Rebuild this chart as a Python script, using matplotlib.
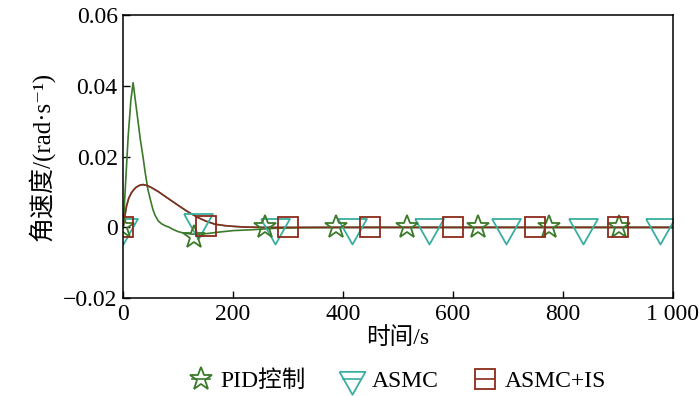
import matplotlib
matplotlib.use('Agg')
import matplotlib.pyplot as plt
from matplotlib.ticker import FuncFormatter

plt.rcParams['font.family'] = ['Liberation Serif', 'Noto Sans CJK SC', 'DejaVu Serif']
plt.rcParams['axes.unicode_minus'] = True

# PID control response
pid_t = [0, 3, 9, 14, 18, 22, 27, 31, 36, 40, 45, 50, 54, 58, 64, 70, 76, 84, 91, 100, 110,
         125, 139, 155, 170, 200, 230, 272, 320, 400, 1000]
pid_v = [0, 0.0088, 0.0256, 0.036, 0.0409, 0.036, 0.030, 0.025, 0.020, 0.0155, 0.0107,
         0.0075, 0.0051, 0.0034, 0.0018, 0.001, 0.0005, 0.0, -0.0006, -0.0012, -0.0016,
         -0.0019, -0.0019, -0.0017, -0.0014, -0.0009, -0.0007, -0.0003, -0.0001, 0, 0]

# ASMC+IS response (ASMC lies underneath it)
asis_t = [0, 3, 6, 10, 15, 20, 24, 30, 36, 44, 52, 64, 76, 90, 106, 120, 136, 150, 167, 185,
          200, 220, 260, 1000]
asis_v = [0, 0.0033, 0.006, 0.0082, 0.0098, 0.0108, 0.0114, 0.0119, 0.0121, 0.0118, 0.0112,
          0.0101, 0.0088, 0.0073, 0.0056, 0.0042, 0.0028, 0.0018, 0.0009, 0.0005, 0.0003,
          0.0001, 0, 0]
asmc_t = asis_t
asmc_v = asis_v

# marker positions
pid_mt = [0, 129, 258, 387, 516, 645, 774, 903]
pid_mv = [0, -0.0028, 0, 0, 0, 0, 0, 0]
asmc_mt = [0, 137, 277, 417, 556, 697, 837, 977]
asmc_mv = [0, 0.0016, 0, 0, 0, 0, 0, 0]
asis_mt = [0, 150, 300, 450, 600, 750, 900]
asis_mv = [0, 0.0003, 0, 0, 0, 0, 0]

c_pid = '#3b7a2a'
c_asmc = '#3aaea0'
c_asis = '#8b2a1a'

# triangle with its centroid on the data point
tri = [(-1, 0.59), (1, 0.59), (0, -1.18), (-1, 0.59)]

fig = plt.figure(figsize=(7, 3.96), dpi=100)
ax = fig.add_axes([0.176, 0.247, 0.785, 0.715])

ax.plot(asmc_t, asmc_v, color=c_asmc, lw=1.2)
ax.plot(pid_t, pid_v, color=c_pid, lw=1.2)
ax.plot(asis_t, asis_v, color=c_asis, lw=1.2)

ax.plot(asmc_mt, asmc_mv, ls='none', marker=tri, ms=24.5, mfc='none', mec=c_asmc, mew=1.3)
ax.plot(pid_mt, pid_mv, ls='none', marker='*', ms=17, mfc='none', mec=c_pid, mew=1.3)
ax.plot(asis_mt, asis_mv, ls='none', marker='s', ms=15, mfc='none', mec=c_asis, mew=1.3)

# legend handles
h1, = ax.plot([], [], color=c_pid, lw=1.2, marker='*', ms=17, mfc='none', mec=c_pid, mew=1.3)
h2, = ax.plot([], [], color=c_asmc, lw=1.2, marker=tri, ms=22, mfc='none', mec=c_asmc, mew=1.3)
h3, = ax.plot([], [], color=c_asis, lw=1.2, marker='s', ms=14, mfc='none', mec=c_asis, mew=1.3)
fig.legend([h1, h2, h3], ['PID控制', 'ASMC', 'ASMC+IS'], loc='center', bbox_to_anchor=(0.57, 0.038),
           ncol=3, frameon=False, fontsize=17, handlelength=0.75, handletextpad=0.45, columnspacing=1.6)

ax.set_xlim(0, 1000)
ax.set_ylim(-0.02, 0.06)
ax.set_xticks([0, 200, 400, 600, 800, 1000])
ax.set_yticks([-0.02, 0, 0.02, 0.04, 0.06])
ax.xaxis.set_major_formatter(FuncFormatter(lambda v, p: '1 000' if v == 1000 else '%d' % v))
ax.yaxis.set_major_formatter(FuncFormatter(lambda v, p: '0' if abs(v) < 1e-9 else ('%.2f' % v).replace('-', '\u2212')))
ax.tick_params(direction='in', length=5, width=1, labelsize=17, pad=4)
for s in ax.spines.values():
    s.set_linewidth(1.1)

ax.set_xlabel('时间/s', fontsize=17, labelpad=2)
ax.set_ylabel('角速度/(rad·s\u207b\u00b9)', fontsize=18, labelpad=6)

plt.savefig('out.png', dpi=100)
